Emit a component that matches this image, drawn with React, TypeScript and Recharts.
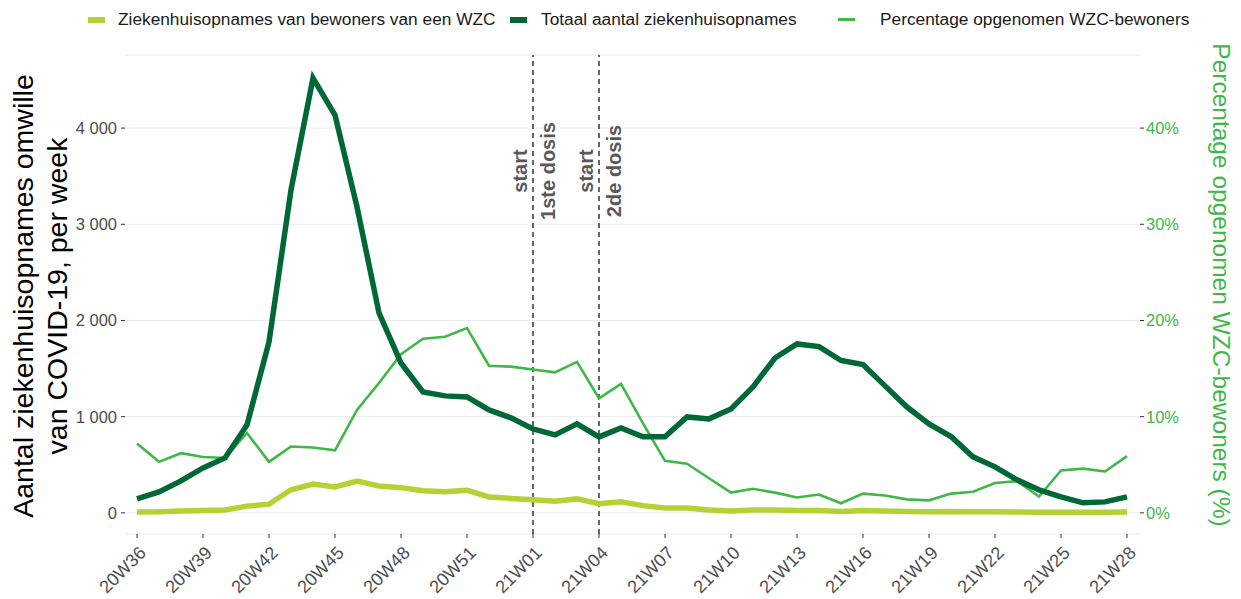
import { CartesianGrid, Line, LineChart, ReferenceLine, XAxis, YAxis } from "recharts";

const weeks = [
  "20W36", "20W37", "20W38", "20W39", "20W40", "20W41", "20W42", "20W43", "20W44", "20W45",
  "20W46", "20W47", "20W48", "20W49", "20W50", "20W51", "20W52", "20W53",
  "21W01", "21W02", "21W03", "21W04", "21W05", "21W06", "21W07", "21W08", "21W09", "21W10",
  "21W11", "21W12", "21W13", "21W14", "21W15", "21W16", "21W17", "21W18", "21W19", "21W20",
  "21W21", "21W22", "21W23", "21W24", "21W25", "21W26", "21W27", "21W28",
];

const totalAdmissions = [
  145, 218, 332, 467, 571, 914, 1777, 3356, 4519, 4135,
  3180, 2078, 1558, 1257, 1216, 1205, 1070, 987,
  873, 810, 925, 790, 883, 790, 790, 997, 977, 1080,
  1310, 1610, 1756, 1728, 1584, 1541, 1320, 1100, 925, 793,
  582, 478, 343, 239, 166, 104, 114, 166,
];

const wzcAdmissions = [
  10, 12, 20, 25, 30, 70, 90, 240, 300, 270,
  330, 280, 262, 230, 220, 235, 165, 150,
  135, 120, 145, 95, 115, 75, 50, 50, 30, 20,
  30, 30, 25, 25, 15, 25, 20, 15, 12, 15,
  12, 12, 10, 5, 6, 6, 6, 10,
];

const wzcPercentage = [
  7.2, 5.3, 6.2, 5.8, 5.7, 8.3, 5.3, 6.9, 6.8, 6.5,
  10.7, 13.5, 16.5, 18.1, 18.3, 19.2, 15.3, 15.2,
  14.9, 14.6, 15.7, 11.9, 13.4, 9.3, 5.4, 5.1, 3.6, 2.1,
  2.5, 2.1, 1.6, 1.9, 1.0, 2.0, 1.8, 1.4, 1.3, 2.0,
  2.2, 3.1, 3.3, 1.7, 4.4, 4.6, 4.3, 5.9,
];

const leftTicks = [0, 1000, 2000, 3000, 4000];
const rightTicks = [0, 10, 20, 30, 40];

const vaccinationMarks = [
  { week: "21W01", lines: ["start", "1ste dosis"] },
  { week: "21W04", lines: ["start", "2de dosis"] },
];

const legendItems = [
  { label: "Ziekenhuisopnames van bewoners van een WZC", color: "#b3d335", thick: 6, left: 88, gap: 13 },
  { label: "Totaal aantal ziekenhuisopnames", color: "#006837", thick: 6, left: 510, gap: 14 },
  { label: "Percentage opgenomen WZC-bewoners", color: "#41b649", thick: 3, left: 838, gap: 25 },
];

const FONT = "'Liberation Sans', Arial, sans-serif";
const DARK = "#006837";
const LIME = "#b3d335";
const GREEN = "#41b649";
const TICK = "#4d4d4d";

const data = weeks.map((week, i) => ({
  week,
  total: totalAdmissions[i],
  wzc: wzcAdmissions[i],
  pct: wzcPercentage[i],
}));

function formatThousands(value: number) {
  if (value >= 1000) return `${Math.floor(value / 1000)} ${String(value % 1000).padStart(3, "0")}`;
  return String(value);
}

function WeekTick(props: any) {
  const { x, y, payload } = props;
  return (
    <g transform={`translate(${x + 10},${y + 14}) rotate(-45)`}>
      <text x={0} y={0} textAnchor="end" fill={TICK} fontSize={18} fontFamily={FONT}>
        {payload.value}
      </text>
    </g>
  );
}

function CountTick(props: any) {
  const { x, y, payload } = props;
  return (
    <text x={x} y={y + 6} textAnchor="end" fill={TICK} fontSize={16.5} fontFamily={FONT}>
      {formatThousands(payload.value)}
    </text>
  );
}

function PercentTick(props: any) {
  const { x, y, payload } = props;
  return (
    <text x={x} y={y + 6} textAnchor="start" fill={GREEN} fontSize={16.5} fontFamily={FONT}>
      {`${payload.value}%`}
    </text>
  );
}

function LeftAxisTitle() {
  return (
    <g fontFamily={FONT} fontSize={28.5} fill="#000">
      <text transform="translate(33,296) rotate(-90)" textAnchor="middle">
        Aantal ziekenhuisopnames omwille
      </text>
      <text transform="translate(67,296) rotate(-90)" textAnchor="middle">
        van COVID-19, per week
      </text>
    </g>
  );
}

function RightAxisTitle() {
  return (
    <text
      transform="translate(1213,285) rotate(90)"
      textAnchor="middle"
      fontFamily={FONT}
      fontSize={24.5}
      fill={GREEN}
    >
      Percentage opgenomen WZC-bewoners (%)
    </text>
  );
}

function DoseLabel(lines: string[]) {
  return (props: any) => {
    const x = props.viewBox?.x ?? 0;
    return (
      <g fontFamily={FONT} fontSize={20} fontWeight="bold" fill="#595959">
        <text transform={`translate(${x - 6},171) rotate(-90)`} textAnchor="middle">
          {lines[0]}
        </text>
        <text transform={`translate(${x + 22},171) rotate(-90)`} textAnchor="middle">
          {lines[1]}
        </text>
      </g>
    );
  };
}

export default function App() {
  return (
    <div style={{ position: "absolute", left: 0, top: 0, width: 1241, height: 599, background: "#fff", fontFamily: FONT }}>
      {legendItems.map((item) => (
        <div
          key={item.label}
          style={{ position: "absolute", top: 9, left: item.left, display: "flex", alignItems: "center", fontSize: 17.3, color: "#1a1a1a" }}
        >
          <span style={{ display: "inline-block", width: 17, height: item.thick, background: item.color, marginRight: item.gap }} />
          <span>{item.label}</span>
        </div>
      ))}
      <LineChart width={1241} height={599} data={data} margin={{ top: 55, right: 0, bottom: 0, left: 0 }}>
        <CartesianGrid vertical={false} stroke="#ebebeb" yAxisId="left" />
        <XAxis
          dataKey="week"
          interval={2}
          padding={{ left: 12, right: 13 }}
          height={65}
          axisLine={false}
          tickLine={{ stroke: "#333" }}
          tickSize={4}
          tick={<WeekTick />}
        />
        <YAxis
          yAxisId="left"
          width={125}
          domain={[-220, 4760]}
          ticks={leftTicks}
          axisLine={false}
          tickLine={{ stroke: "#333" }}
          tickSize={4}
          tickMargin={4}
          tick={<CountTick />}
          label={{ content: LeftAxisTitle }}
        />
        <YAxis
          yAxisId="right"
          orientation="right"
          width={101}
          domain={[-2.2, 47.6]}
          ticks={rightTicks}
          axisLine={false}
          tickLine={{ stroke: "#333" }}
          tickSize={4}
          tickMargin={2}
          tick={<PercentTick />}
          label={{ content: RightAxisTitle }}
        />
        {vaccinationMarks.map((mark) => (
          <ReferenceLine
            key={mark.week}
            x={mark.week}
            yAxisId="left"
            stroke="#000"
            strokeDasharray="5 4"
            strokeWidth={1.2}
            label={{ content: DoseLabel(mark.lines) }}
          />
        ))}
        <Line
          yAxisId="right"
          dataKey="pct"
          stroke={GREEN}
          strokeWidth={2.6}
          dot={false}
          isAnimationActive={false}
        />
        <Line
          yAxisId="left"
          dataKey="wzc"
          stroke={LIME}
          strokeWidth={5.5}
          dot={false}
          isAnimationActive={false}
        />
        <Line
          yAxisId="left"
          dataKey="total"
          stroke={DARK}
          strokeWidth={5.5}
          dot={false}
          isAnimationActive={false}
        />
      </LineChart>
    </div>
  );
}
